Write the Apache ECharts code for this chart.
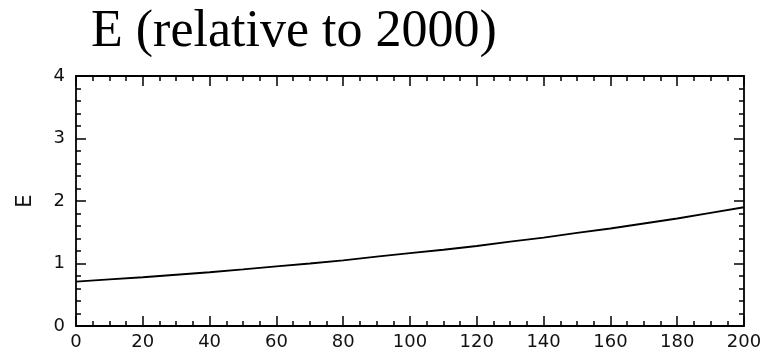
<!DOCTYPE html>
<html>
<head>
<meta charset="utf-8">
<script src="https://cdn.jsdelivr.net/npm/echarts@6/dist/echarts.min.js"></script>
<style>
  html, body { margin: 0; padding: 0; background: #fff; }
  #chart { width: 765px; height: 354px; }
</style>
</head>
<body>
<div id="chart"></div>
<script>
// Years after 2000 and the relative value of E
const years = [0, 10, 20, 30, 40, 50, 60, 70, 80, 90, 100, 110, 120, 130, 140, 150, 160, 170, 180, 190, 200];
const eValues = [0.71, 0.745, 0.78, 0.82, 0.86, 0.905, 0.955, 1.0, 1.05, 1.11, 1.165, 1.22, 1.28, 1.35, 1.415, 1.49, 1.56, 1.64, 1.72, 1.81, 1.90];
const titleText = 'E (relative to 2000)';
const yName = 'E';

const seriesData = years.map((x, i) => [x, eValues[i]]);

const labelFont = { fontFamily: 'DejaVu Sans', fontSize: 18, color: '#111' };
const frameLine = { show: true, onZero: false, lineStyle: { color: '#000', width: 1.8 } };
const majorTick = { show: true, inside: true, length: 10, lineStyle: { color: '#000', width: 1.5 } };
const minorTick = { show: true, length: 5, lineStyle: { color: '#000', width: 1.5 } };

const chart = echarts.init(document.getElementById('chart'), null, { renderer: 'canvas' });
chart.setOption({
  animation: false,
  backgroundColor: '#fff',
  title: {
    text: titleText,
    left: 86,
    top: 1,
    textStyle: { fontFamily: 'Liberation Serif', fontSize: 52, fontWeight: 'normal', color: '#000' }
  },
  grid: { left: 76, right: 21, top: 76, bottom: 28 },
  xAxis: [
    {
      type: 'value', min: 0, max: 200, interval: 20, position: 'bottom',
      axisLine: frameLine, axisTick: majorTick,
      minorTick: Object.assign({ splitNumber: 4 }, minorTick),
      axisLabel: Object.assign({ margin: 7 }, labelFont),
      splitLine: { show: false }, minorSplitLine: { show: false }
    },
    {
      type: 'value', min: 0, max: 200, interval: 20, position: 'top',
      axisLine: frameLine, axisTick: majorTick,
      minorTick: Object.assign({ splitNumber: 4 }, minorTick),
      axisLabel: { show: false },
      splitLine: { show: false }, minorSplitLine: { show: false }
    }
  ],
  yAxis: [
    {
      type: 'value', min: 0, max: 4, interval: 1, position: 'left',
      name: yName, nameLocation: 'middle', nameGap: 40, nameRotate: 90,
      nameTextStyle: Object.assign({}, labelFont, { fontSize: 21 }),
      axisLine: frameLine, axisTick: majorTick,
      minorTick: Object.assign({ splitNumber: 5 }, minorTick),
      axisLabel: Object.assign({ margin: 11 }, labelFont),
      splitLine: { show: false }, minorSplitLine: { show: false }
    },
    {
      type: 'value', min: 0, max: 4, interval: 1, position: 'right',
      axisLine: frameLine, axisTick: majorTick,
      minorTick: Object.assign({ splitNumber: 5 }, minorTick),
      axisLabel: { show: false },
      splitLine: { show: false }, minorSplitLine: { show: false }
    }
  ],
  series: [
    {
      type: 'line',
      data: seriesData,
      xAxisIndex: 0, yAxisIndex: 0,
      showSymbol: false, smooth: false,
      lineStyle: { color: '#000', width: 1.8 }
    }
  ]
});
</script>
</body>
</html>
